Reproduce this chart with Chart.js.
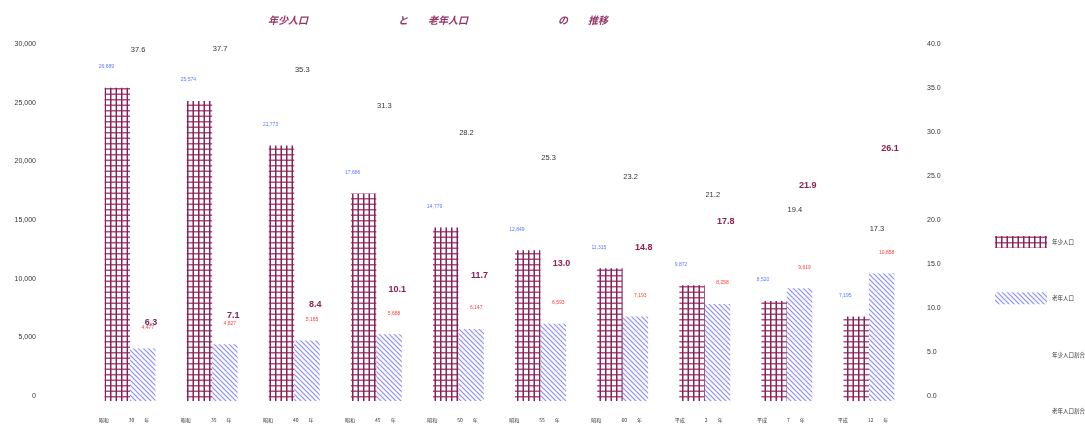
<!DOCTYPE html>
<html lang="ja">
<head>
<meta charset="utf-8">
<title>年少人口と老年人口の推移</title>
<script src="https://cdn.jsdelivr.net/npm/chart.js@4.4.1/dist/chart.umd.min.js"></script>
<style>
  html, body { margin: 0; padding: 0; background: #fff; }
</style>
</head>
<body>
<canvas id="pop-chart" width="1085" height="426"></canvas>
<script>
// categories (year labels, spaced like the original sheet)
const yearLabels = [
    '昭和　　　　30　　年', '昭和　　　　35　　年', '昭和　　　　40　　年',
    '昭和　　　　45　　年', '昭和　　　　50　　年', '昭和　　　　55　　年',
    '昭和　　　　60　　年', '平成　　　　2　　年', '平成　　　　7　　年',
    '平成　　　　12　　年'
];

// persons
const youngPop = [26689, 25574, 21773, 17686, 14779, 12849, 11315, 9872, 8520, 7195];
const oldPop = [4477, 4827, 5165, 5688, 6147, 6593, 7193, 8258, 9619, 10858];

// percent
const youngRatio = [37.6, 37.7, 35.3, 31.3, 28.2, 25.3, 23.2, 21.2, 19.4, 17.3];
const oldRatio = [6.3, 7.1, 8.4, 10.1, 11.7, 13.0, 14.8, 17.8, 21.9, 26.1];

const titleText = '年少人口　　　　　　　　　と　　老年人口　　　　　　　　　の　　推移';
const MAROON = '#993366';
const SANS = '"Liberation Sans", Arial, sans-serif';
const JP = '"Noto Sans CJK JP", sans-serif';

// maroon grid fill (drawn at 2x, then scaled down for thin lines)
function makeGridPattern() {
    const c = document.createElement('canvas');
    c.width = 11;
    c.height = 11;
    const g = c.getContext('2d');
    g.fillStyle = '#a8507f';
    g.fillRect(0, 0, 11, 3);
    g.fillStyle = '#8c1f55';
    g.fillRect(0, 0, 3, 11);
    const p = g.createPattern(c, 'repeat');
    p.setTransform(new DOMMatrix().scale(0.5));
    return p;
}

// light blue diagonal hatch
function makeHatchPattern() {
    const c = document.createElement('canvas');
    c.width = 5;
    c.height = 5;
    const g = c.getContext('2d');
    g.strokeStyle = '#8c8cff';
    g.lineWidth = 1.2;
    g.beginPath();
    g.moveTo(-1, -1); g.lineTo(6, 6);
    g.moveTo(-1, 4); g.lineTo(2, 7);
    g.moveTo(4, -1); g.lineTo(7, 2);
    g.stroke();
    return g.createPattern(c, 'repeat');
}

const fmtInt = v => v.toLocaleString('en-US');
const fmtPct = v => v.toFixed(1);

// the big tick paddings would otherwise push the plot area in
function fixAxisWidth(w) {
    return scale => {
        scale.width = w;
        scale.paddingTop = 0;
        scale.paddingBottom = 0;
    };
}

// draws the number labels next to each bar / point
const valueLabels = {
    id: 'valueLabels',
    afterDatasetsDraw(chart) {
        const ctx = chart.ctx;
        chart.data.datasets.forEach((ds, i) => {
            const st = ds.valueLabel;
            if (!st) return;
            const meta = chart.getDatasetMeta(i);
            ctx.save();
            ctx.font = st.font;
            ctx.fillStyle = st.color;
            ctx.textAlign = 'center';
            ctx.textBaseline = 'middle';
            meta.data.forEach((el, j) => {
                ctx.fillText(st.format(ds.data[j]), el.x + st.dx, el.y + st.dy);
            });
            ctx.restore();
        });
    }
};

// title and the side legend
const sheetDecor = {
    id: 'sheetDecor',
    afterDraw(chart) {
        const ctx = chart.ctx;
        ctx.save();
        ctx.font = 'italic bold 10px ' + JP;
        ctx.fillStyle = MAROON;
        ctx.textBaseline = 'middle';
        ctx.textAlign = 'left';
        ctx.fillText(titleText, 268, 20);

        ctx.font = '5.5px ' + JP;
        chart.data.datasets.forEach((ds, i) => {
            const y = 242 + i * 56.3;
            if (ds.type === 'bar') {
                ctx.fillStyle = ds.backgroundColor;
                ctx.fillRect(995, y - 6, 52, 12);
            }
            ctx.fillStyle = '#333';
            ctx.fillText(ds.label, 1052, y);
        });
        ctx.restore();
    }
};

document.addEventListener('DOMContentLoaded', () => {
    const ctx = document.getElementById('pop-chart').getContext('2d');

    new Chart(ctx, {
        type: 'bar',
        data: {
            labels: yearLabels,
            datasets: [
                {
                    type: 'bar',
                    label: '年少人口',
                    data: youngPop,
                    yAxisID: 'y',
                    backgroundColor: makeGridPattern(),
                    categoryPercentage: 0.62,
                    barPercentage: 1.0,
                    valueLabel: { font: '5px ' + SANS, color: '#5b78ff', dx: -11, dy: -21, format: fmtInt }
                },
                {
                    type: 'bar',
                    label: '老年人口',
                    data: oldPop,
                    yAxisID: 'y',
                    backgroundColor: makeHatchPattern(),
                    categoryPercentage: 0.62,
                    barPercentage: 1.0,
                    valueLabel: { font: '5px ' + SANS, color: '#ff3b3b', dx: 5, dy: -21, format: fmtInt }
                },
                {
                    type: 'line',
                    label: '年少人口割合',
                    data: youngRatio,
                    yAxisID: 'y1',
                    showLine: false,
                    pointRadius: 0,
                    borderColor: 'transparent',
                    backgroundColor: 'transparent',
                    valueLabel: { font: '7.5px ' + SANS, color: '#333', dx: 8, dy: -20, format: fmtPct }
                },
                {
                    type: 'line',
                    label: '老年人口割合',
                    data: oldRatio,
                    yAxisID: 'y1',
                    showLine: false,
                    pointRadius: 0,
                    borderColor: 'transparent',
                    backgroundColor: 'transparent',
                    valueLabel: { font: 'bold 9px ' + SANS, color: '#8c1f55', dx: 21, dy: -23, format: fmtPct }
                }
            ]
        },
        options: {
            responsive: false,
            animation: false,
            layout: {
                padding: { top: 49, right: 135, bottom: 3, left: 0 }
            },
            plugins: {
                legend: { display: false },
                title: { display: false },
                tooltip: { enabled: false }
            },
            scales: {
                x: {
                    grid: { display: false, drawTicks: false },
                    border: { display: false },
                    ticks: {
                        autoSkip: false,
                        maxRotation: 0,
                        padding: 16,
                        labelOffset: -6,
                        color: '#333',
                        font: { size: 5, family: JP }
                    },
                    afterFit(scale) {
                        scale.height = 22;
                        scale.paddingLeft = 0;
                        scale.paddingRight = 0;
                    }
                },
                y: {
                    position: 'left',
                    min: 0,
                    max: 30000,
                    grid: { display: false, drawTicks: false },
                    border: { display: false },
                    ticks: {
                        stepSize: 5000,
                        padding: 53,
                        labelOffset: -5,
                        color: '#333',
                        font: { size: 7, family: SANS }
                    },
                    afterFit: fixAxisWidth(89)
                },
                y1: {
                    position: 'right',
                    min: 0,
                    max: 40,
                    grid: { display: false, drawTicks: false },
                    border: { display: false },
                    ticks: {
                        stepSize: 5,
                        padding: 17,
                        labelOffset: -5,
                        color: '#333',
                        font: { size: 7, family: SANS },
                        callback: v => v.toFixed(1)
                    },
                    afterFit: fixAxisWidth(40)
                }
            }
        },
        plugins: [valueLabels, sheetDecor]
    });
});
</script>
</body>
</html>
